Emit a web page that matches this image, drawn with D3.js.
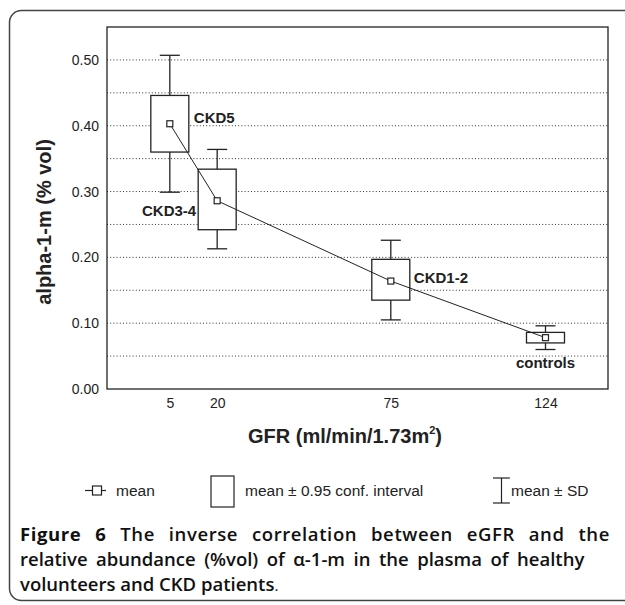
<!DOCTYPE html>
<html>
<head>
<meta charset="utf-8">
<script src="https://d3js.org/d3.v7.min.js"></script>
<style>
  body { margin: 0; background: #fff; }
  svg { display: block; }
</style>
</head>
<body>
<div id="chart"></div>
<script>
// values
const gfr = [5, 20, 75, 124];
const groups = ["CKD5", "CKD3-4", "CKD1-2", "controls"];
const means = [0.403, 0.286, 0.164, 0.078];
const ciLow = [0.360, 0.242, 0.135, 0.070];
const ciHigh = [0.446, 0.334, 0.197, 0.086];
const sdLow = [0.299, 0.213, 0.105, 0.060];
const sdHigh = [0.507, 0.364, 0.226, 0.096];
const yTicks = [0.00, 0.10, 0.20, 0.30, 0.40, 0.50];
const gridValues = [0.05, 0.10, 0.15, 0.20, 0.25, 0.30, 0.35, 0.40, 0.45, 0.50];

const width = 625, height = 605;
const font = "'Liberation Sans', Arial, sans-serif";
const ink = "#222";

const svg = d3.select("#chart").append("svg")
    .attr("width", width)
    .attr("height", height);

// outer rounded frame
svg.append("rect")
    .attr("x", 9.5).attr("y", 10.5)
    .attr("width", 640).attr("height", 590)
    .attr("rx", 12)
    .attr("fill", "none")
    .attr("stroke", "#444")
    .attr("stroke-width", 1.5);

const plot = { left: 107, right: 608, top: 27, bottom: 389 };

const x = d3.scaleLinear().domain([-14.9, 143.8]).range([plot.left, plot.right]);
const y = d3.scaleLinear().domain([0, 0.55]).range([plot.bottom, plot.top]);

// dotted grid
svg.append("g")
    .selectAll("line")
    .data(gridValues)
    .join("line")
    .attr("x1", plot.left).attr("x2", plot.right)
    .attr("y1", d => y(d)).attr("y2", d => y(d))
    .attr("stroke", "#333")
    .attr("stroke-width", 1)
    .attr("stroke-dasharray", "1,2.2");

// plot frame
svg.append("rect")
    .attr("x", plot.left).attr("y", plot.top)
    .attr("width", plot.right - plot.left)
    .attr("height", plot.bottom - plot.top)
    .attr("fill", "none")
    .attr("stroke", ink)
    .attr("stroke-width", 1.3);

// y axis
const yAxis = svg.append("g")
    .attr("transform", `translate(${plot.left},0)`)
    .call(d3.axisLeft(y).tickValues(yTicks).tickFormat(d3.format(".2f")).tickSize(0).tickPadding(8));
yAxis.select(".domain").remove();
yAxis.selectAll("text")
    .attr("font-family", font)
    .attr("font-size", 14)
    .attr("fill", ink);

// x axis
const xAxis = svg.append("g")
    .attr("transform", `translate(0,${plot.bottom})`)
    .call(d3.axisBottom(x).tickValues(gfr).tickFormat(d3.format("d")).tickSize(0).tickPadding(9));
xAxis.select(".domain").remove();
xAxis.selectAll("text")
    .attr("font-family", font)
    .attr("font-size", 14)
    .attr("fill", ink);

// axis titles
const xTitle = svg.append("text")
    .attr("x", 345).attr("y", 443)
    .attr("text-anchor", "middle")
    .attr("font-family", font)
    .attr("font-size", 20)
    .attr("font-weight", "bold")
    .attr("fill", ink);
xTitle.append("tspan").text("GFR (ml/min/1.73m");
xTitle.append("tspan").attr("font-size", 11).attr("dy", -9).text("2");
xTitle.append("tspan").attr("dy", 9).text(")");

svg.append("text")
    .attr("transform", `translate(51,${(plot.top + plot.bottom) / 2 + 14}) rotate(-90)`)
    .attr("text-anchor", "middle")
    .attr("font-family", font)
    .attr("font-size", 20)
    .attr("font-weight", "bold")
    .attr("fill", ink)
    .text("alpha-1-m (% vol)");

const rows = gfr.map((g, i) => ({
  gfr: g, name: groups[i], mean: means[i],
  ciLow: ciLow[i], ciHigh: ciHigh[i], sdLow: sdLow[i], sdHigh: sdHigh[i]
}));

const boxW = 38, capW = 20, markS = 6;

const marks = svg.append("g")
    .attr("stroke", ink)
    .attr("fill", "none")
    .attr("stroke-width", 1.3);

// whiskers (mean ± SD)
marks.selectAll("line.up").data(rows).join("line")
    .attr("class", "up")
    .attr("x1", d => x(d.gfr)).attr("x2", d => x(d.gfr))
    .attr("y1", d => y(d.ciHigh)).attr("y2", d => y(d.sdHigh));
marks.selectAll("line.down").data(rows).join("line")
    .attr("class", "down")
    .attr("x1", d => x(d.gfr)).attr("x2", d => x(d.gfr))
    .attr("y1", d => y(d.ciLow)).attr("y2", d => y(d.sdLow));
marks.selectAll("line.capTop").data(rows).join("line")
    .attr("class", "capTop")
    .attr("x1", d => x(d.gfr) - capW / 2).attr("x2", d => x(d.gfr) + capW / 2)
    .attr("y1", d => y(d.sdHigh)).attr("y2", d => y(d.sdHigh));
marks.selectAll("line.capBot").data(rows).join("line")
    .attr("class", "capBot")
    .attr("x1", d => x(d.gfr) - capW / 2).attr("x2", d => x(d.gfr) + capW / 2)
    .attr("y1", d => y(d.sdLow)).attr("y2", d => y(d.sdLow));

// boxes (mean ± 0.95 CI)
marks.selectAll("rect.box").data(rows).join("rect")
    .attr("class", "box")
    .attr("x", d => x(d.gfr) - boxW / 2)
    .attr("width", boxW)
    .attr("y", d => y(d.ciHigh))
    .attr("height", d => y(d.ciLow) - y(d.ciHigh))
    .attr("fill", "#fff");

// line through the means
svg.append("path")
    .datum(rows)
    .attr("fill", "none")
    .attr("stroke", ink)
    .attr("stroke-width", 1)
    .attr("d", d3.line().x(d => x(d.gfr)).y(d => y(d.mean)));

// mean markers
svg.append("g").selectAll("rect").data(rows).join("rect")
    .attr("x", d => x(d.gfr) - markS / 2)
    .attr("y", d => y(d.mean) - markS / 2)
    .attr("width", markS).attr("height", markS)
    .attr("fill", "#fff")
    .attr("stroke", ink)
    .attr("stroke-width", 1.2);

// group labels
const labelPlace = {
  "CKD5": { dx: 24, dy: -1, anchor: "start" },
  "CKD3-4": { dx: -21, dy: 15, anchor: "end" },
  "CKD1-2": { dx: 23, dy: 2, anchor: "start" },
  "controls": { dx: 0, dy: 30, anchor: "middle" }
};
svg.append("g").selectAll("text").data(rows).join("text")
    .attr("x", d => x(d.gfr) + labelPlace[d.name].dx)
    .attr("y", d => y(d.mean) + labelPlace[d.name].dy)
    .attr("text-anchor", d => labelPlace[d.name].anchor)
    .attr("font-family", font)
    .attr("font-size", 15)
    .attr("font-weight", "bold")
    .attr("fill", ink)
    .text(d => d.name);

// legend
const lg = svg.append("g")
    .attr("stroke", ink)
    .attr("fill", "none")
    .attr("stroke-width", 1.2);
lg.append("line").attr("x1", 85).attr("x2", 106).attr("y1", 490.5).attr("y2", 490.5);
lg.append("rect").attr("x", 92.5).attr("y", 486).attr("width", 9).attr("height", 9).attr("fill", "#fff");
lg.append("rect").attr("x", 211).attr("y", 476).attr("width", 23).attr("height", 31);
lg.append("line").attr("x1", 501.5).attr("x2", 501.5).attr("y1", 478).attr("y2", 503);
lg.append("line").attr("x1", 493).attr("x2", 510).attr("y1", 478).attr("y2", 478);
lg.append("line").attr("x1", 493).attr("x2", 510).attr("y1", 503).attr("y2", 503);

const legendText = [
  { x: 116, t: "mean" },
  { x: 245, t: "mean ± 0.95 conf. interval" },
  { x: 511, t: "mean ± SD" }
];
svg.append("g").selectAll("text").data(legendText).join("text")
    .attr("x", d => d.x).attr("y", 496)
    .attr("font-family", font)
    .attr("font-size", 15.5)
    .attr("fill", ink)
    .text(d => d.t);

// caption
const capFont = "'Open Sans', 'Noto Sans', sans-serif";
const capSize = 18.5;

// stretch a caption line to a given right edge by widening the word gaps
function justify(sel, right, gaps) {
  const w = sel.node().getComputedTextLength();
  sel.attr("word-spacing", Math.max(0, (right - 20 - w) / gaps));
}

const cap1 = svg.append("text")
    .attr("x", 20).attr("y", 541)
    .attr("font-family", capFont)
    .attr("font-size", capSize)
    .attr("fill", "#111")
    .attr("letter-spacing", 0.6);
cap1.append("tspan").attr("font-weight", 700).text("Figure 6 ");
cap1.append("tspan").attr("font-weight", 600).text("The inverse correlation between eGFR and the");
justify(cap1, 610, 8);

const cap2 = svg.append("text")
    .attr("x", 20).attr("y", 566)
    .attr("font-family", capFont)
    .attr("font-size", capSize)
    .attr("font-weight", 600)
    .attr("fill", "#111")
    .text("relative abundance (%vol) of α-1-m in the plasma of healthy");
justify(cap2, 588, 10);

const cap3 = svg.append("text")
    .attr("x", 20).attr("y", 591)
    .attr("font-family", capFont)
    .attr("font-size", capSize)
    .attr("fill", "#111");
cap3.append("tspan").attr("font-weight", 600).text("volunteers and CKD patients");
cap3.append("tspan").attr("font-weight", 400).attr("font-size", 15).text(".");
</script>
</body>
</html>
